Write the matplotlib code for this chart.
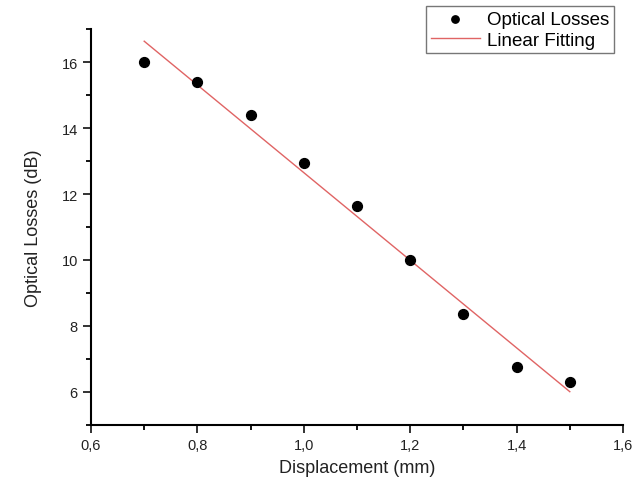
import matplotlib
matplotlib.use("Agg")
import matplotlib.pyplot as plt
from matplotlib.ticker import MultipleLocator, FuncFormatter

plt.rcParams['font.family'] = ['Liberation Sans', 'DejaVu Sans']

displacement = [0.7, 0.8, 0.9, 1.0, 1.1, 1.2, 1.3, 1.4, 1.5]
losses = [16.0, 15.4, 14.4, 12.95, 11.65, 10.0, 8.35, 6.75, 6.3]
fit_x = [0.7, 1.5]
fit_y = [16.63, 6.01]

fig = plt.figure(figsize=(6.44, 4.89), dpi=100)
ax = fig.add_axes([91/644, 63/489, 532/644, 396/489])

line, = ax.plot(fit_x, fit_y, color='#e06464', lw=1.0, label='Linear Fitting', zorder=2)
pts = ax.scatter(displacement, losses, s=50, color='black', label='Optical Losses', zorder=3)

ax.set_xlim(0.6, 1.6)
ax.set_ylim(5, 17)
ax.xaxis.set_major_locator(MultipleLocator(0.2))
ax.xaxis.set_minor_locator(MultipleLocator(0.1))
ax.yaxis.set_minor_locator(MultipleLocator(1))
ax.xaxis.set_major_formatter(FuncFormatter(lambda v, p: f"{v:.1f}".replace('.', ',')))
ax.yaxis.set_major_formatter(FuncFormatter(lambda v, p: f"{v:.0f}"))
ax.set_yticks([6, 8, 10, 12, 14, 16])

for s in ['top', 'right']:
    ax.spines[s].set_visible(False)
for s in ['left', 'bottom']:
    ax.spines[s].set_linewidth(1.5)

ax.tick_params(which='major', direction='out', length=5.5, width=1.3, labelsize=10.5, colors='#222222', pad=4)
ax.tick_params(which='minor', direction='out', length=3.5, width=1.3)

ax.set_xlabel('Displacement (mm)', fontsize=13, color='#222222', labelpad=5)
ax.set_ylabel('Optical Losses (dB)', fontsize=13, color='#222222', labelpad=14)

leg = fig.legend(handles=[pts, line], labels=['Optical Losses', 'Linear Fitting'],
                 loc='upper right', bbox_to_anchor=(614/644, 1 - 7/489),
                 fontsize=13.5, frameon=True, fancybox=False, borderpad=0.25,
                 labelspacing=0.2, handlelength=2.6, handletextpad=0.4, borderaxespad=0,
                 markerscale=0.75)
leg.get_frame().set_edgecolor('#555555')
leg.get_frame().set_linewidth(1.0)

fig.savefig('out.png', dpi=100)
